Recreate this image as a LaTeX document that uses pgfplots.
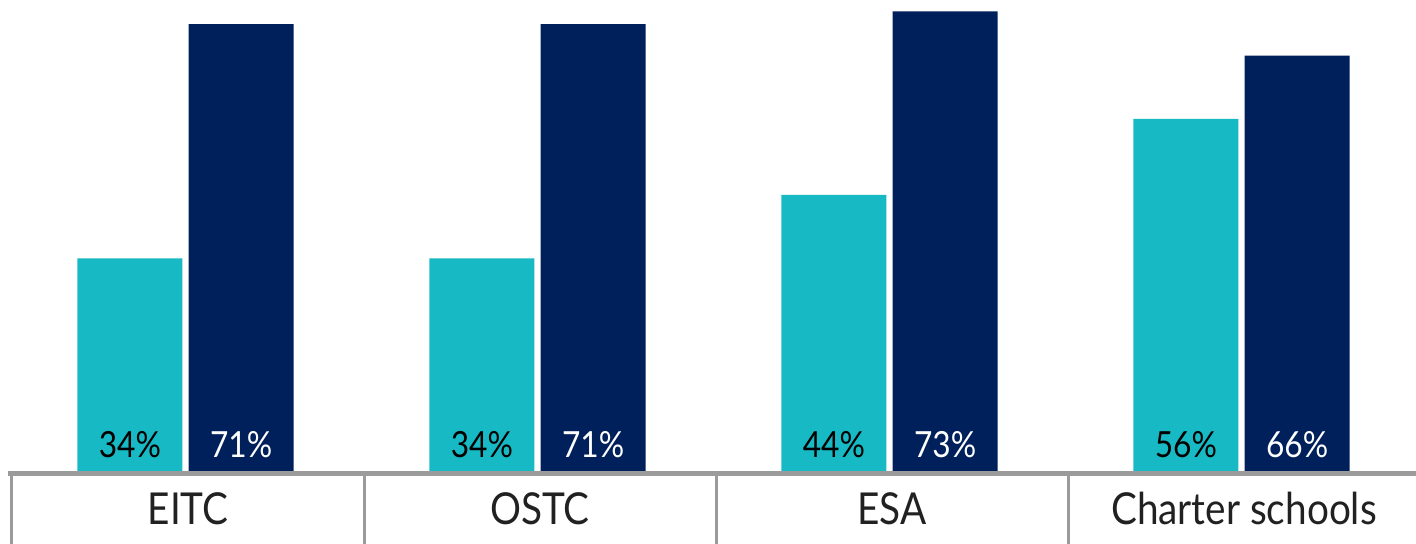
\documentclass[border=0pt]{standalone}
\usepackage{pgfplots}
\pgfplotsset{compat=1.18}
\usepackage{fontspec}
\setmainfont{Lato}[FakeStretch=0.88]
\definecolor{teal1}{HTML}{17B9C4}
\definecolor{navy1}{HTML}{00205B}
\definecolor{sepgray}{HTML}{9B9B9B}
\begin{document}
\begin{tikzpicture}
\path[use as bounding box] (-6pt,-35.25pt) rectangle (702pt,236.75pt);
\begin{axis}[
  scale only axis, width=704pt, height=236.75pt,
  xmin=-0.5, xmax=3.5, ymin=0, ymax=74.8,
  axis x line=bottom, axis y line=none,
  axis on top,
  x axis line style={-, draw=sepgray, line width=2.5pt, shorten <=-2pt},
  xtick={0,1,2,3},
  xticklabels={EITC,OSTC,ESA,Charter schools},
  tick align=outside,
  major tick length=0pt,
  xtick style={draw=none},
  xticklabel style={anchor=base, yshift=-25.75pt, font=\fontsize{22}{26}\selectfont, text=black!87},
  extra x ticks={-0.5,0.5,1.5,2.5},
  extra x tick labels={},
  extra x tick style={major tick length=40pt, tick align=outside, xtick style={draw=sepgray, line width=1.5pt}},
  ybar, bar width=0.298,
  visualization depends on={rawy \as \ry},
  point meta=y,
  /pgf/number format/assume math mode=true,
  nodes near coords={\pgfmathprintnumber{\pgfplotspointmeta}\%},
  nodes near coords style={anchor=base, yshift={-\ry*3.1651pt+7.75pt}, font=\fontsize{18}{22}\selectfont},
]
\addplot[fill=teal1, draw=none, bar shift=-0.165, nodes near coords style={text=black}]
  coordinates {(0,34) (1,34) (2,44) (3,56)};
\addplot[fill=navy1, draw=none, bar shift=0.151, nodes near coords style={text=white}]
  coordinates {(0,71) (1,71) (2,73) (3,66)};
\end{axis}
\end{tikzpicture}
\end{document}
